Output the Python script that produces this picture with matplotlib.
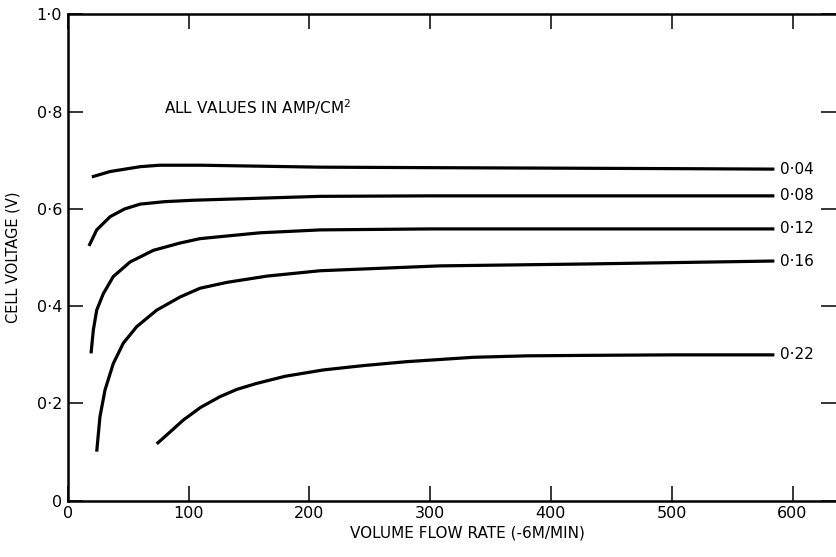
import matplotlib
matplotlib.use("Agg")
import matplotlib.pyplot as plt

# curves: flow rate vs cell voltage, one per current density
flow_004 = [20, 35, 60, 76, 110, 209, 300, 400, 500, 585]
volt_004 = [0.666, 0.677, 0.687, 0.690, 0.690, 0.686, 0.685, 0.684, 0.683, 0.682]

flow_008 = [17.6, 24, 35, 47, 60, 80, 104, 209, 300, 400, 500, 585]
volt_008 = [0.524, 0.557, 0.584, 0.600, 0.610, 0.615, 0.618, 0.626, 0.627, 0.627, 0.627, 0.627]

flow_012 = [19.3, 21.2, 24, 29.5, 37.7, 51.6, 70.9, 93, 109.5, 130, 159, 209, 300, 400, 500, 585]
volt_012 = [0.303, 0.351, 0.392, 0.426, 0.461, 0.491, 0.515, 0.530, 0.539, 0.544,
            0.551, 0.557, 0.559, 0.559, 0.559, 0.559]

flow_016 = [24, 26.7, 30.9, 37.7, 46, 57.1, 73.7, 93, 109.5, 131.6, 165, 209, 308, 432, 585]
volt_016 = [0.101, 0.173, 0.228, 0.282, 0.324, 0.358, 0.392, 0.419, 0.437, 0.449,
            0.462, 0.473, 0.483, 0.487, 0.493]

flow_022 = [73.7, 85, 95.7, 110, 126, 140, 156, 180, 211.6, 245, 280.6, 335.8, 380, 432, 500, 585]
volt_022 = [0.117, 0.142, 0.166, 0.192, 0.214, 0.229, 0.241, 0.256, 0.269, 0.278, 0.286,
            0.295, 0.298, 0.299, 0.300, 0.300]

curve_labels = ["0·04", "0·08", "0·12", "0·16", "0·22"]

x_ticks = [0, 100, 200, 300, 400, 500, 600]
x_tick_labels = ["0", "100", "200", "300", "400", "500", "600"]
y_ticks = [0, 0.2, 0.4, 0.6, 0.8, 1.0]
y_tick_labels = ["0", "0·2", "0·4", "0·6", "0·8", "1·0"]

plt.rcParams["font.family"] = ["DejaVu Sans"]

fig = plt.figure(figsize=(8.36, 5.57), dpi=100)
ax = fig.add_axes([0.081, 0.101, 0.919, 0.873])

curves = [
    (flow_004, volt_004),
    (flow_008, volt_008),
    (flow_012, volt_012),
    (flow_016, volt_016),
    (flow_022, volt_022),
]
for (xs, ys), label in zip(curves, curve_labels):
    ax.plot(xs, ys, color="black", linewidth=2.3, solid_capstyle="butt", solid_joinstyle="round")
    ax.text(xs[-1] + 5, ys[-1], label, ha="left", va="center", fontsize=11)

ax.text(80, 0.81, "ALL VALUES IN AMP/CM$^2$", fontsize=11, ha="left", va="center")

ax.set_xlim(0, 636)
ax.set_ylim(0, 1.0)

ax.set_xticks(x_ticks)
ax.set_xticklabels(x_tick_labels, fontsize=11.5)
ax.set_yticks(y_ticks)
ax.set_yticklabels(y_tick_labels, fontsize=11.5)
ax.tick_params(direction="in", length=11, width=1.1, top=True, right=True, pad=4)

for side in ["left", "bottom", "top"]:
    ax.spines[side].set_linewidth(1.8)
ax.spines["right"].set_visible(False)

ax.set_xlabel("VOLUME FLOW RATE (-6M/MIN)", fontsize=11)
ax.xaxis.set_label_coords(0.52, -0.05)
ax.set_ylabel("CELL VOLTAGE (V)", fontsize=10.5)
ax.yaxis.set_label_coords(-0.062, 0.5)

fig.savefig("out.png", dpi=100)
